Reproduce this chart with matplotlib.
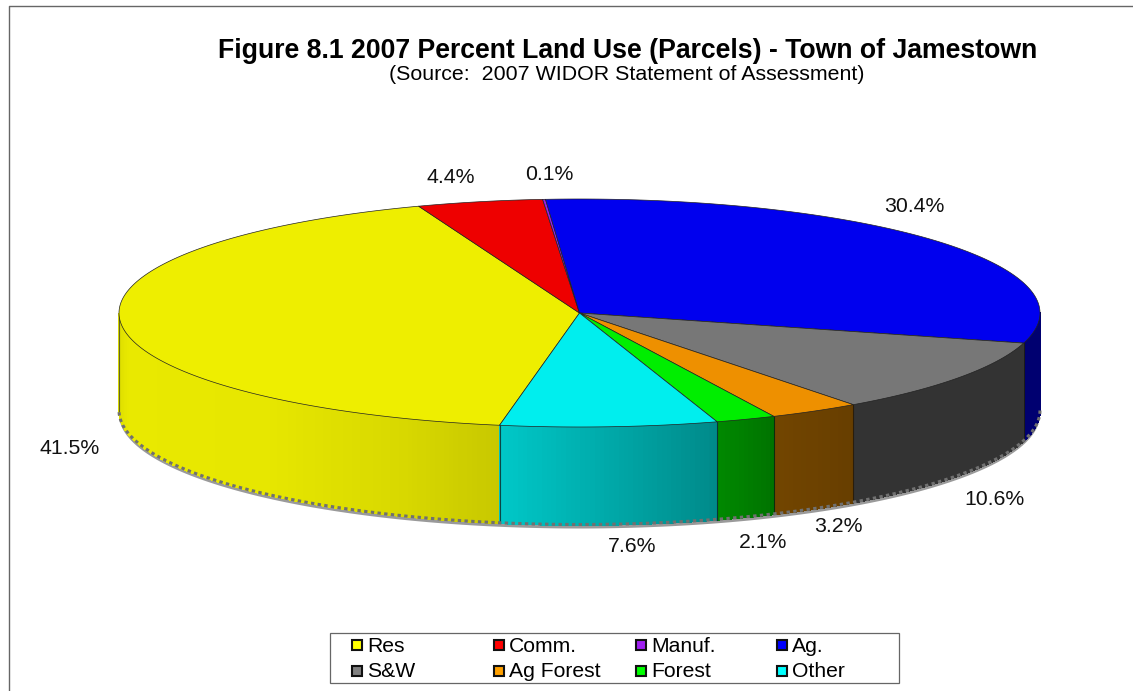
import numpy as np
import matplotlib
matplotlib.use("Agg")
import matplotlib.pyplot as plt
from matplotlib.patches import Polygon, Rectangle
from matplotlib.collections import PolyCollection

plt.rcParams['font.family'] = ['Liberation Sans', 'DejaVu Sans']

# ---- data ----
categories = ["Res", "Comm.", "Manuf.", "Ag.", "S&W", "Ag Forest", "Forest", "Other"]
percents = [41.5, 4.4, 0.1, 30.4, 10.6, 3.2, 2.1, 7.6]
top_colors = ["#EEEE00", "#EE0000", "#9A1EE6", "#0000EE", "#777777", "#EE9000", "#00EE00", "#00EEEE"]
legend_colors = ["#FFFF00", "#FF0000", "#A020F0", "#0000FF", "#808080", "#FFA000", "#00FF00", "#00FFFF"]
title = "Figure 8.1 2007 Percent Land Use (Parcels) - Town of Jamestown"
subtitle = "(Source:  2007 WIDOR Statement of Assessment)"

# ---- layout (pixels) ----
W, H = 1133, 691
CX, CY, RX, RY, DEPTH = 579.5, 313.0, 460.5, 114.0, 98.0
START_DEG = 190.0   # clockwise from 12 o'clock
label_xy = [(70, 448), (451, 177), (549, 174), (914, 206), (994, 499), (838, 527), (763, 542), (632, 547)]
legend_xy = [(351.5, 645), (493.5, 645), (635.5, 645), (776.5, 645),
             (351.5, 670.5), (493.5, 670.5), (635.5, 670.5), (776.5, 670.5)]

fig = plt.figure(figsize=(W / 100, H / 100), dpi=100, facecolor="white")
ax = fig.add_axes([0, 0, 1, 1])
ax.set_xlim(0, W)
ax.set_ylim(H, 0)
ax.axis("off")

# frame (open at right and bottom)
ax.plot([1133, 8.5, 8.5], [5.5, 5.5, 691], color="#666666", lw=1.0, zorder=1)


def ell(theta_deg, dy=0.0):
    t = np.radians(theta_deg)
    return CX + RX * np.sin(t), CY - RY * np.cos(t) + dy


def shade(theta_deg):
    """Lighting of the outer wall, by clockwise angle."""
    a = np.asarray(theta_deg) % 360
    return np.interp(a, [90, 105, 106, 143, 155, 163, 190, 203, 223, 258, 270],
                     [0.47, 0.47, 0.43, 0.43, 0.48, 0.58, 0.84, 0.91, 0.97, 0.98, 0.92])


edges = START_DEG + np.concatenate([[0], np.cumsum(percents)]) * 360.0 / sum(percents)

# shadow beneath the wall
th = np.linspace(90, 270, 400)
x0, y0 = ell(th, DEPTH + 3.5)
x1, y1 = ell(th, DEPTH - 4)
ax.add_patch(Polygon(np.r_[np.c_[x0, y0], np.c_[x1, y1][::-1]], closed=True,
                     fc="#9A9A9A", ec="none", zorder=2))

# outer walls, visible front half only
for i, pct in enumerate(percents):
    a0, a1 = edges[i], edges[i + 1]
    samples = np.r_[np.arange(a0, a1, 0.6), a1]
    polys, cols = [], []
    rgb = np.array(matplotlib.colors.to_rgb(top_colors[i]))
    for s0, s1 in zip(samples[:-1], samples[1:]):
        m = 0.5 * (s0 + s1) % 360
        if m < 90 or m > 270:
            continue
        xa, ya = ell(s0)
        xb, yb = ell(s1)
        polys.append([(xa, ya), (xb, yb), (xb, yb + DEPTH), (xa, ya + DEPTH)])
        cols.append(np.clip(rgb * shade(m), 0, 1))
    if polys:
        ax.add_collection(PolyCollection(polys, facecolors=cols, edgecolors=cols, linewidths=0.6,
                                         antialiaseds=False, zorder=3))

# vertical edges of the wall
for a in edges[:-1]:
    m = a % 360
    if 90 <= m <= 270:
        xa, ya = ell(m)
        ax.plot([xa, xa], [ya, ya + DEPTH], color="#101010", lw=0.8, alpha=0.7, zorder=4)
xa, ya = ell(270)
ax.plot([xa, xa], [ya, ya + DEPTH], color="#333333", lw=0.8, alpha=0.7, zorder=4)

# dotted rim on the bottom edge
bx, by = ell(th, DEPTH - 0.5)
ax.plot(bx, by, color="#707070", lw=2.2, ls=(0, (1.1, 1.1)), zorder=4)

# top face
for i, pct in enumerate(percents):
    t = np.linspace(edges[i], edges[i + 1], max(int(pct * 6), 3))
    x, y = ell(t)
    pts = np.r_[[[CX, CY]], np.c_[x, y]]
    ax.add_patch(Polygon(pts, closed=True, fc=top_colors[i], ec="#222222", lw=0.5, zorder=5, joinstyle="round"))

# texts
ax.text(627.5, 50.5, title, fontsize=19.2, fontweight="bold", ha="center", va="center", color="black", zorder=6)
ax.text(626.5, 74, subtitle, fontsize=15.4, ha="center", va="center", color="black", zorder=6)
for (lx, ly), pct in zip(label_xy, percents):
    ax.text(lx, ly, f"{pct:.1f}%", fontsize=15.3, ha="center", va="center", color="#111111", zorder=6)

# legend
ax.add_patch(Rectangle((329.5, 632.5), 569.5, 50.5, fc="white", ec="#666666", lw=0.9, zorder=6))
for (lx, ly), c, name in zip(legend_xy, legend_colors, categories):
    ax.add_patch(Rectangle((lx, ly - 5), 10, 10, fc=c, ec="#111111", lw=1.5, zorder=7))
    ax.text(lx + 15.5, ly + 1, name, fontsize=15.2, ha="left", va="center", color="black", zorder=7)

fig.savefig("out.png", dpi=100)
